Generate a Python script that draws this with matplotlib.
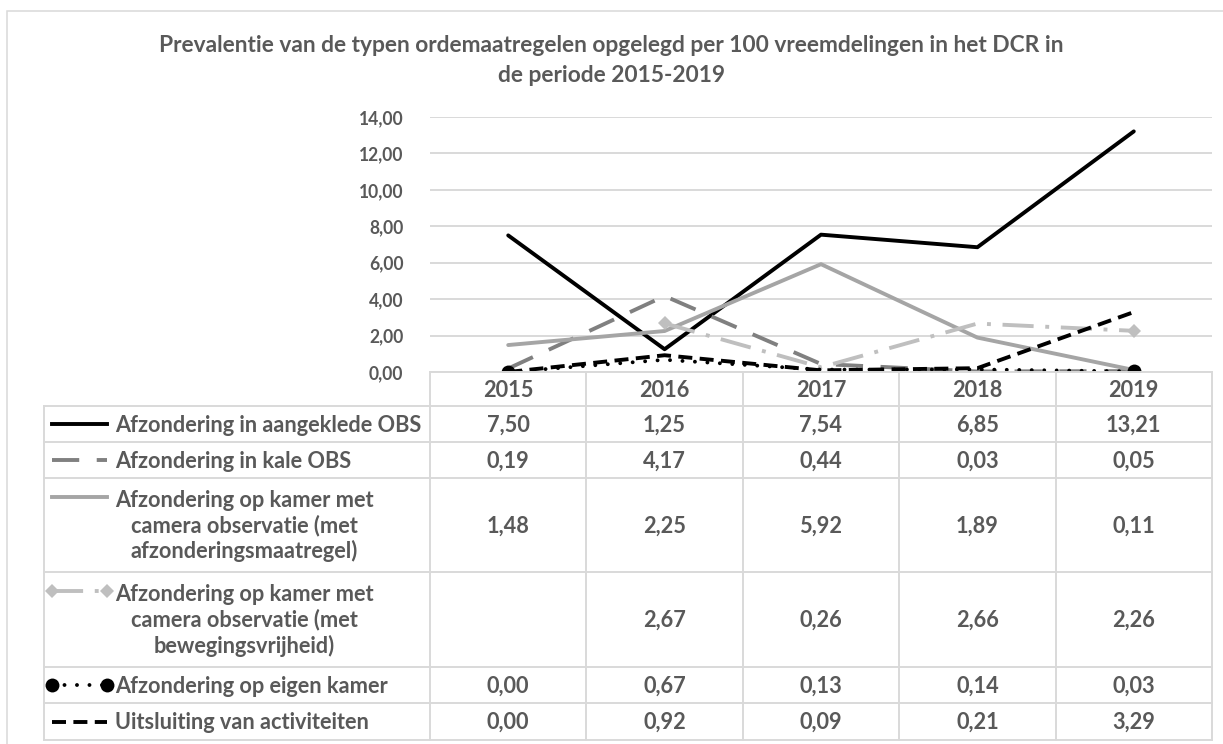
import numpy as np
import matplotlib
matplotlib.use("Agg")
import matplotlib.pyplot as plt
from matplotlib.lines import Line2D
from matplotlib.patches import Rectangle

# ---------------- data ----------------
TITLE_LINES = ["Prevalentie van de typen ordemaatregelen opgelegd per 100 vreemdelingen in het DCR in",
               "de periode 2015-2019"]
YEARS = ["2015", "2016", "2017", "2018", "2019"]
SERIES_LABELS = [
    "Afzondering in aangeklede OBS",
    "Afzondering in kale OBS",
    "Afzondering op kamer met\ncamera observatie (met\nafzonderingsmaatregel)",
    "Afzondering op kamer met\ncamera observatie (met\nbewegingsvrijheid)",
    "Afzondering op eigen kamer",
    "Uitsluiting van activiteiten",
]
aangeklede_obs = [7.50, 1.25, 7.54, 6.85, 13.21]
kale_obs = [0.19, 4.17, 0.44, 0.03, 0.05]
camera_afzondering = [1.48, 2.25, 5.92, 1.89, 0.11]
camera_beweging = [np.nan, 2.67, 0.26, 2.66, 2.26]
eigen_kamer = [0.00, 0.67, 0.13, 0.14, 0.03]
uitsluiting = [0.00, 0.92, 0.09, 0.21, 3.29]
SERIES = [aangeklede_obs, kale_obs, camera_afzondering, camera_beweging, eigen_kamer, uitsluiting]
Y_TICKS = [0, 2, 4, 6, 8, 10, 12, 14]

# ---------------- styles ----------------
STYLES = [
    dict(color="#000000", linestyle="-"),
    dict(color="#808080", linestyle=(0, (7, 4.5))),
    dict(color="#A5A5A5", linestyle="-"),
    dict(color="#BFBFBF", linestyle=(0, (8, 3, 1, 3)), marker="D", markersize=7, ends=True),
    dict(color="#000000", linestyle=(0, (0.01, 3.2)), marker="o", markersize=10, ends=True, dot=True),
    dict(color="#000000", linestyle=(0, (3.6, 1.9))),
]
LW = 2.8
TXT = "#595959"
GRID = "#D9D9D9"
FONT = "Lato"

W, H = 1223, 744
fig = plt.figure(figsize=(W / 100, H / 100), dpi=100)
renderer = fig.canvas.get_renderer()


def fit_size(text, target_px, weight="bold"):
    t = fig.text(0, 0, text, fontsize=10, family=FONT, weight=weight)
    w = t.get_window_extent(renderer).width
    t.remove()
    return 10 * target_px / w


title_fs = fit_size(TITLE_LINES[0], 912)
label_fs = fit_size(SERIES_LABELS[0], 308)
tick_fs = fit_size("14,00", 45)

# figure border
fig.add_artist(Rectangle((7 / W, -0.05), 1.1, (H - 11) / H + 0.05, transform=fig.transFigure,
                         fill=False, edgecolor=GRID, lw=1.1))

# title
for i, line in enumerate(TITLE_LINES):
    fig.text(611 / W, 1 - (46 + 30 * i) / H, line, ha="center", va="center",
             fontsize=title_fs, family=FONT, weight="bold", color=TXT)

# ---------------- plot ----------------
PL, PR, PT, PB = 430, 1212, 117, 372
ax = fig.add_axes([PL / W, 1 - PB / H, (PR - PL) / W, (PB - PT) / H])
x = np.arange(len(YEARS))
for i, (vals, st) in enumerate(zip(SERIES, STYLES)):
    vals = np.array(vals, dtype=float)
    kw = dict(color=st["color"], linestyle=st["linestyle"], lw=LW, zorder=3 + i,
              dash_capstyle="round" if st.get("dot") else "butt", solid_capstyle="round",
              solid_joinstyle="round")
    if "marker" in st:
        valid = np.where(~np.isnan(vals))[0]
        kw.update(marker=st["marker"], markersize=st["markersize"],
                  markevery=[int(valid[0]), int(valid[-1])], markeredgewidth=0)
    ax.plot(x, vals, **kw)

ax.set_xlim(-0.5, len(YEARS) - 0.5)
ax.set_ylim(0, 14)
ax.set_yticks(Y_TICKS)
ax.set_yticklabels([f"{v:.2f}".replace(".", ",") for v in Y_TICKS])
ax.set_xticks([])
ax.tick_params(axis="y", length=0, pad=19, labelsize=tick_fs, labelcolor=TXT)
for lab in ax.get_yticklabels():
    lab.set_family(FONT)
    lab.set_weight("bold")
ax.grid(axis="y", color=GRID, lw=1.4, zorder=0)
ax.set_axisbelow(True)
for s in ax.spines.values():
    s.set_visible(False)

# ---------------- data table ----------------
TL, TR, TT, TB = 44, 1212, 372, 740
col_px = (PR - PL) / len(YEARS)
XL = -0.5 - (PL - TL) / col_px
tab = fig.add_axes([TL / W, 1 - TB / H, (TR - TL) / W, (TB - TT) / H])
tab.set_xlim(XL, len(YEARS) - 0.5)
tab.set_ylim(TB, TT)
tab.axis("off")


def px2u(px):
    return -0.5 + (px - PL) / col_px


ROW_EDGES = [406, 442, 478, 572, 667, 703, 740]
lkw = dict(color=GRID, lw=1.4, clip_on=False, zorder=1)
tab.plot([-0.5, len(YEARS) - 0.5], [TT, TT], **lkw)
for yb in ROW_EDGES:
    tab.plot([XL, len(YEARS) - 0.5], [yb, yb], **lkw)
for k in range(len(YEARS) + 1):
    tab.plot([k - 0.5, k - 0.5], [TT, TB], **lkw)
tab.plot([XL, XL], [ROW_EDGES[0], TB], **lkw)

# header
for i, yr in enumerate(YEARS):
    tab.text(i, (TT + ROW_EDGES[0]) / 2 + 1, yr, ha="center", va="center",
             fontsize=label_fs, family=FONT, weight="bold", color=TXT)

LINE_GAP = 28.5
for r, (lab, vals, st) in enumerate(zip(SERIES_LABELS, SERIES, STYLES)):
    y0, y1 = ROW_EDGES[r], ROW_EDGES[r + 1]
    yc = (y0 + y1) / 2 + 1
    nlines = lab.count("\n") + 1
    tab.text(px2u(115), yc, lab, ha="left", va="center", multialignment="center",
             fontsize=label_fs, family=FONT, weight="bold", color=TXT, linespacing=1.22)
    ykey = yc - (nlines - 1) / 2 * LINE_GAP - 1
    kx = [px2u(52), px2u(107)]
    kkw = dict(color=st["color"], linestyle=st["linestyle"], lw=LW, clip_on=False,
               dash_capstyle="round" if st.get("dot") else "butt")
    if "marker" in st:
        kkw.update(marker=st["marker"], markersize=st["markersize"], markeredgewidth=0)
    tab.add_line(Line2D(kx, [ykey, ykey], **kkw))
    for i, v in enumerate(vals):
        if np.isnan(v):
            continue
        tab.text(i, yc, f"{v:.2f}".replace(".", ","), ha="center", va="center",
                 fontsize=label_fs, family=FONT, weight="bold", color=TXT)

fig.savefig("out.png", dpi=100)
